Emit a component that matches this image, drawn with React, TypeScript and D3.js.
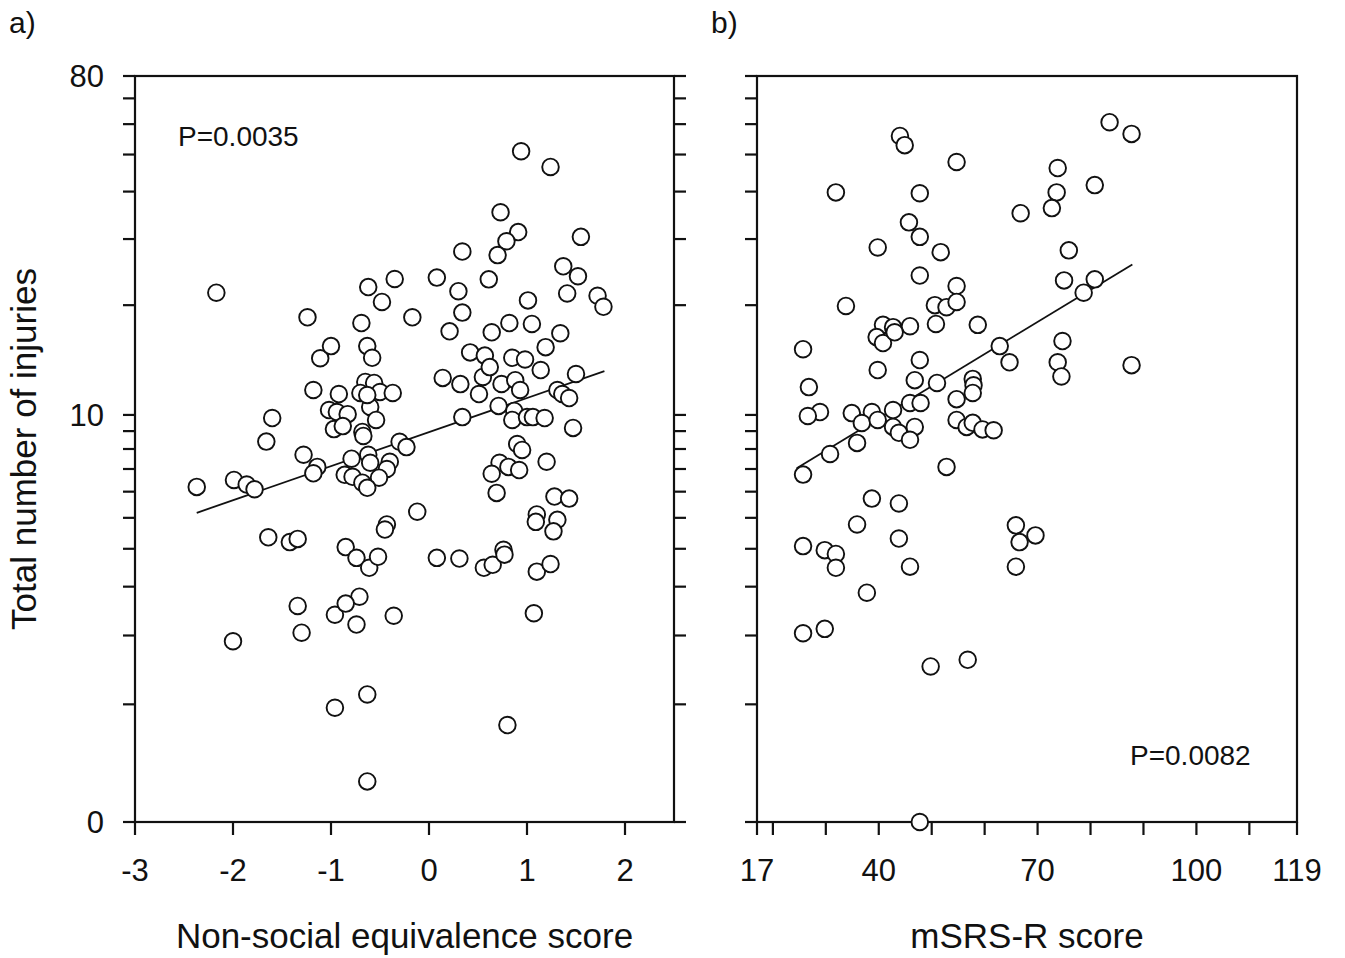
import React from "react";
import * as d3 from "d3";

// ---- Data (panel a: Non-social equivalence score vs total injuries) ----
const aScore = [
  -2.37, -2.0, -2.17, -1.99, -1.86, -1.78, -1.64, -1.66, -1.6, -1.42, -1.34, -1.34, -1.3, -1.28, -1.24, -1.18,
  -1.14, -1.18, -1.11, -1.0, -0.96, -0.96, -0.92, -1.02, -0.94, -0.83, -0.97, -0.88, -0.69, -0.63, -0.58, -0.65,
  -0.56, -0.7, -0.5, -0.37, -0.6, -0.54, -0.68, -0.67, -0.62, -0.35, -0.48, -0.17, 0.08, -0.3, -0.23, -0.79,
  -0.86, -0.78, -0.62, -0.6, -0.4, -0.43, -0.51, -0.68, -0.63, -0.12, -0.43, -0.45, -0.85, -0.74, -0.61, -0.52,
  -0.71, -0.85, -0.74, -0.36, -0.63, -0.63, 0.08, 0.31, 0.56, 0.65, 0.76, 0.77, 1.07, 0.8, 1.1, 1.24,
  1.1, 1.09, 1.31, 1.27, 1.28, 1.43, 1.2, 0.69, 0.72, 0.64, 0.81, 0.92, 0.9, 0.95, 1.47, 0.34,
  0.71, 0.87, 0.85, 1.0, 1.06, 1.18, 0.14, 0.32, 0.55, 0.51, 0.74, 0.88, 0.93, 1.5, 1.31, 1.36,
  1.43, 0.42, 0.57, 0.62, 0.85, 0.98, 1.19, 1.14, 0.21, 0.64, 0.82, 1.05, 1.34, 0.34, 0.3, 0.61,
  0.34, 0.73, 0.91, 0.79, 0.7, 1.01, 1.37, 1.52, 1.41, 1.72, 1.78, 1.55, 0.94, 1.24, -0.63,
];
const aInjuries = [
  6.2, 1.9, 21.6, 6.5, 6.3, 6.1, 4.35, 8.4, 9.8, 4.2, 4.3, 2.57, 2.05, 7.7, 18.55, 11.74,
  7.1, 6.8, 14.36, 15.5, 2.39, 0.96, 11.44, 10.32, 10.19, 10.05, 9.12, 9.3, 17.9, 15.5, 14.4, 12.36,
  12.28, 11.52, 11.59, 11.52, 10.53, 9.68, 8.95, 8.72, 22.36, 23.5, 20.4, 18.55, 23.7, 8.39, 8.1, 7.5,
  6.73, 6.64, 7.7, 7.3, 7.35, 7.0, 6.6, 6.38, 6.16, 5.22, 4.77, 4.6, 4.05, 3.74, 3.47, 3.77,
  2.77, 2.62, 2.2, 2.37, 1.12, 0.27, 3.74, 3.72, 3.47, 3.55, 3.97, 3.83, 2.42, 0.77, 3.37, 3.57,
  5.12, 4.86, 4.93, 4.54, 5.8, 5.72, 7.35, 5.95, 7.3, 6.78, 7.1, 6.95, 8.27, 7.95, 9.19, 9.86,
  10.6, 10.26, 9.68, 9.86, 9.86, 9.8, 12.68, 12.19, 12.76, 11.44, 12.2, 12.5, 11.74, 13.0, 11.74, 11.44,
  11.15, 14.9, 14.6, 13.58, 14.4, 14.25, 15.4, 13.33, 17.0, 16.9, 17.9, 17.8, 16.8, 19.1, 21.8, 23.45,
  27.8, 35.3, 31.3, 29.6, 27.2, 20.6, 25.4, 23.9, 21.5, 21.2, 19.8, 30.4, 51, 46.4, 11.37,
];
const aFitX = [-2.37, 1.79];
const aFitY = [5.18, 13.24];

// ---- Data (panel b: mSRS-R score vs total injuries) ----
const bScore = [
  44.0, 44.9, 83.6, 87.75, 31.9, 47.75, 54.7, 73.8, 73.6, 72.7, 80.8, 66.8, 45.7, 47.75, 39.8, 51.7,
  75.9, 47.75, 75.0, 80.8, 54.7, 33.8, 50.6, 52.8, 54.7, 78.7, 40.8, 42.7, 45.9, 58.7, 50.8, 39.6,
  40.8, 74.7, 62.85, 25.7, 47.75, 73.8, 74.5, 87.75, 39.8, 46.8, 51.0, 57.75, 57.9, 57.75, 26.8, 54.7,
  45.9, 47.9, 42.7, 34.9, 38.7, 28.9, 26.6, 36.8, 39.8, 42.7, 43.8, 46.8, 45.9, 35.9, 54.7, 56.6,
  57.75, 59.6, 61.7, 30.8, 52.8, 25.7, 38.7, 43.8, 35.9, 65.9, 69.6, 66.6, 43.8, 25.7, 29.8, 31.9,
  31.9, 45.9, 65.9, 37.75, 25.7, 29.8, 49.8, 56.8, 47.75, 64.7, 43.0,
];
const bInjuries = [
  55.9, 52.9, 60.7, 56.6, 39.8, 39.6, 47.8, 46.1, 39.8, 36.2, 41.6, 35.1, 33.2, 30.4, 28.5, 27.7,
  28.0, 24.0, 23.3, 23.45, 22.5, 19.9, 20.0, 19.75, 20.4, 21.6, 17.7, 17.45, 17.55, 17.7, 17.8, 16.4,
  15.8, 16.0, 15.5, 15.2, 14.2, 14.0, 12.8, 13.75, 13.33, 12.5, 12.28, 12.6, 12.1, 11.52, 11.96, 11.07,
  10.8, 10.8, 10.32, 10.12, 10.19, 10.19, 9.93, 9.49, 9.68, 9.25, 8.9, 9.25, 8.5, 8.33, 9.68, 9.25,
  9.5, 9.1, 9.05, 7.74, 7.1, 6.74, 5.72, 5.53, 4.77, 4.74, 4.41, 4.2, 4.31, 4.08, 3.96, 3.85,
  3.47, 3.5, 3.5, 2.86, 2.04, 2.12, 1.5, 1.6, 0.0, 14.0, 16.9,
];
const bFitX = [24.5, 87.9];
const bFitY = [7.04, 25.7];

// ---- Ticks ----
const yTicks = [0, 1, 2, 3, 4, 5, 6, 7, 8, 9, 10, 20, 30, 40, 50, 60, 70, 80];
const yTickLabels = [0, 10, 80];
const aXTicks = [-3, -2, -1, 0, 1, 2];
const aXTickLabels = [-3, -2, -1, 0, 1, 2];
const bXTicks = [17, 20, 30, 40, 50, 60, 70, 80, 90, 100, 110, 119];
const bXTickLabels = [17, 40, 70, 100, 119];

const FONT = "'Liberation Sans', Arial, Helvetica, sans-serif";
const TOP = 76;
const BOTTOM = 822;
const TICK = 12;

const yLog = d3.scaleLog().domain([1, 81]).range([BOTTOM, TOP]);
const yPos = (v: number) => yLog(v + 1);

function Panel(props: {
  xs: number[];
  ys: number[];
  fitX: number[];
  fitY: number[];
  domain: [number, number];
  left: number;
  right: number;
  xTicks: number[];
  xLabels: number[];
  leftLabels: boolean;
  rightTicks: boolean;
  title: string;
  pText: string;
  pX: number;
  pY: number;
  tag: string;
  tagX: number;
}) {
  const { xs, ys, fitX, fitY, domain, left, right, xTicks, xLabels, leftLabels, rightTicks, title, pText, pX, pY, tag, tagX } = props;
  const x = d3.scaleLinear().domain(domain).range([left, right]);
  const line = d3
    .line<number>()
    .x((_, i) => x(fitX[i]))
    .y((_, i) => yPos(fitY[i]));
  const stroke = "#111";
  return (
    <g>
      <text x={tagX} y={33} fontFamily={FONT} fontSize={30} fill={stroke}>
        {tag}
      </text>
      <rect x={left} y={TOP} width={right - left} height={BOTTOM - TOP} fill="none" stroke={stroke} strokeWidth={2.2} />
      {yTicks.map((t) => (
        <line key={"l" + t} x1={left - TICK} x2={left} y1={yPos(t)} y2={yPos(t)} stroke={stroke} strokeWidth={2.2} />
      ))}
      {rightTicks &&
        yTicks.map((t) => (
          <line key={"r" + t} x1={right} x2={right + TICK} y1={yPos(t)} y2={yPos(t)} stroke={stroke} strokeWidth={2.2} />
        ))}
      {leftLabels &&
        yTickLabels.map((t) => (
          <text key={"yl" + t} x={left - 31} y={yPos(t)} dy="0.36em" textAnchor="end" fontFamily={FONT} fontSize={31} fill={stroke}>
            {t}
          </text>
        ))}
      {xTicks.map((t) => (
        <line key={"b" + t} x1={x(t)} x2={x(t)} y1={BOTTOM} y2={BOTTOM + 13} stroke={stroke} strokeWidth={2.2} />
      ))}
      {xLabels.map((t) => (
        <text key={"xl" + t} x={x(t)} y={881} textAnchor="middle" fontFamily={FONT} fontSize={31} fill={stroke}>
          {t}
        </text>
      ))}
      <text x={(left + right) / 2} y={948} textAnchor="middle" fontFamily={FONT} fontSize={35} fill={stroke}>
        {title}
      </text>
      <path d={line(fitX) || ""} fill="none" stroke={stroke} strokeWidth={1.8} />
      {xs.map((v, i) => (
        <circle key={i} cx={x(v)} cy={yPos(ys[i])} r={8.3} fill="#fff" stroke={stroke} strokeWidth={1.9} />
      ))}
      <text x={pX} y={pY} fontFamily={FONT} fontSize={28} fill={stroke}>
        {pText}
      </text>
    </g>
  );
}

export default function App() {
  return (
    <svg
      width={1345}
      height={958}
      viewBox="0 0 1345 958"
      style={{ position: "absolute", left: 0, top: 0, background: "#fff" }}
    >
      <rect x={0} y={0} width={1345} height={958} fill="#fff" />
      <Panel
        xs={aScore}
        ys={aInjuries}
        fitX={aFitX}
        fitY={aFitY}
        domain={[-3, 2.5]}
        left={135}
        right={674}
        xTicks={aXTicks}
        xLabels={aXTickLabels}
        leftLabels={true}
        rightTicks={true}
        title="Non-social equivalence score"
        pText="P=0.0035"
        pX={178}
        pY={146}
        tag="a)"
        tagX={9}
      />
      <Panel
        xs={bScore}
        ys={bInjuries}
        fitX={bFitX}
        fitY={bFitY}
        domain={[17, 119]}
        left={757}
        right={1297}
        xTicks={bXTicks}
        xLabels={bXTickLabels}
        leftLabels={false}
        rightTicks={false}
        title="mSRS-R score"
        pText="P=0.0082"
        pX={1130}
        pY={765}
        tag="b)"
        tagX={711}
      />
      <text
        transform="translate(36,449) rotate(-90)"
        textAnchor="middle"
        fontFamily={FONT}
        fontSize={35}
        fill="#111"
      >
        Total number of injuries
      </text>
    </svg>
  );
}
